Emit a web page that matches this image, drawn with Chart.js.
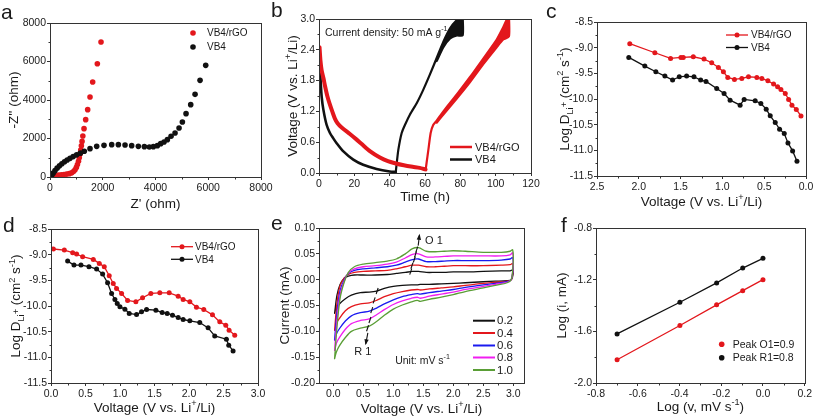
<!DOCTYPE html>
<html><head><meta charset="utf-8">
<script src="https://cdn.jsdelivr.net/npm/chart.js@4.4.1/dist/chart.umd.min.js"></script>
<style>
html,body{margin:0;padding:0;background:#fff;}
#wrap{position:relative;width:814px;height:418px;overflow:hidden;background:#fff;}
canvas{position:absolute;left:0;top:0;}
</style>
</head><body><div id="wrap">
<canvas id="ca" width="814" height="418"></canvas>
<canvas id="cb" width="814" height="418"></canvas>
<canvas id="cc" width="814" height="418"></canvas>
<canvas id="cd" width="814" height="418"></canvas>
<canvas id="ce" width="814" height="418"></canvas>
<canvas id="cf" width="814" height="418"></canvas>
</div>
<script>
// ================= DATA =================
// (a) Nyquist plot
const aRgoX = [230, 330, 430, 530, 630, 730, 820, 890, 950, 1000, 1040, 1080, 1110, 1140, 1165, 1190, 1215, 1245, 1290, 1353, 1429, 1517, 1618, 1795, 1934];
const aRgoY = [60, 95, 115, 130, 150, 175, 215, 280, 380, 500, 650, 820, 1000, 1200, 1400, 1620, 1850, 2130, 2511, 2978, 3498, 4156, 4935, 5887, 7013];
const aVbX = [60, 120, 190, 270, 360, 450, 550, 650, 760, 880, 1010, 1150, 1300, 1517, 1770, 2048, 2339, 2592, 2845, 3097, 3350, 3578, 3767, 3919, 4071, 4197, 4323, 4450, 4589, 4741, 4893, 5019, 5158, 5335, 5500, 5689, 5904];
const aVbY = [60, 200, 330, 460, 580, 690, 790, 880, 970, 1060, 1150, 1240, 1340, 1472, 1593, 1645, 1680, 1680, 1662, 1628, 1593, 1576, 1558, 1576, 1628, 1732, 1818, 1939, 2113, 2286, 2545, 2857, 3290, 3758, 4294, 5022, 5801];
const aXTicks = [0, 2000, 4000, 6000, 8000];
const aYTicks = [0, 2000, 4000, 6000, 8000];

// (b) discharge / charge
const bRgoDisT = [0.3, 0.8, 1.5, 2.5, 3.5, 4.7, 6, 7.5, 9, 10.5, 13, 17.5, 21, 24, 29, 34.5, 39, 43, 48, 53, 57, 60.3];
const bRgoDisV = [2.45, 2.2, 2.0, 1.85, 1.68, 1.5, 1.35, 1.2, 1.06, 0.97, 0.88, 0.76, 0.66, 0.57, 0.42, 0.3, 0.23, 0.19, 0.15, 0.12, 0.1, 0.07];
const bRgoChT = [60.4, 60.9, 61.9, 63.2, 64.7, 66.6, 70.4, 78, 85.5, 93, 100.6, 104, 106.5, 107.6];
const bRgoChV = [0.07, 0.2, 0.45, 0.78, 0.94, 1.02, 1.2, 1.53, 1.87, 2.23, 2.6, 2.82, 3.0, 3.0];
const bRgoCh2T = [66.6, 70.4, 78, 85.5, 93, 100.6, 104.3, 107.5, 107.6];
const bRgoCh2V = [0.98, 1.14, 1.45, 1.77, 2.12, 2.45, 2.6, 2.66, 3.0];
const bVbDisT = [0.3, 0.6, 1, 1.5, 2.5, 4.3, 6.2, 8, 10, 13.8, 19.4, 25, 32.6, 40, 43.5];
const bVbDisV = [2.15, 2.0, 1.75, 1.49, 1.23, 0.94, 0.78, 0.68, 0.58, 0.42, 0.26, 0.16, 0.08, 0.03, 0.02];
const bVbChT = [43.5, 43.8, 44.9, 46.8, 48.7, 51.5, 55.3, 59, 62.8, 66.6, 70.4, 74.2, 77.5, 79.5, 81.4];
const bVbChV = [0.03, 0.13, 0.45, 0.78, 0.94, 1.14, 1.36, 1.62, 1.92, 2.24, 2.56, 2.82, 2.96, 3.0, 3.0];
const bVbCh2T = [66.6, 70.4, 74.2, 78, 81.3, 81.4];
const bVbCh2V = [2.18, 2.45, 2.62, 2.68, 2.68, 3.0];
const bXTicks = [0, 20, 40, 60, 80, 100, 120];
const bYTicks = [0, 0.6, 1.2, 1.8, 2.4, 3.0];

// (c) diffusion coefficient (discharge)
const cRgoV = [2.108, 1.808, 1.62, 1.496, 1.468, 1.348, 1.22, 1.128, 1.048, 0.988, 0.936, 0.856, 0.768, 0.688, 0.588, 0.528, 0.456, 0.388, 0.34, 0.30, 0.248, 0.208, 0.168, 0.116, 0.06];
const cRgoD = [-8.923, -9.099, -9.209, -9.19, -9.19, -9.177, -9.222, -9.294, -9.385, -9.469, -9.58, -9.619, -9.6, -9.567, -9.58, -9.6, -9.645, -9.71, -9.762, -9.814, -9.892, -10.009, -10.12, -10.205, -10.33];
const cVbV = [2.12, 1.928, 1.796, 1.688, 1.596, 1.516, 1.428, 1.34, 1.26, 1.196, 1.068, 0.98, 0.908, 0.788, 0.74, 0.608, 0.54, 0.476, 0.428, 0.368, 0.316, 0.26, 0.216, 0.16, 0.108];
const cVbD = [-9.19, -9.359, -9.469, -9.554, -9.632, -9.567, -9.554, -9.567, -9.632, -9.658, -9.795, -9.892, -10.022, -10.12, -10.009, -10.035, -10.087, -10.198, -10.328, -10.458, -10.588, -10.673, -10.855, -11.011, -11.213];
const cXTicks = [0, 0.5, 1.0, 1.5, 2.0, 2.5];
const cYTicks = [-11.5, -11.0, -10.5, -10.0, -9.5, -9.0, -8.5];

// (d) diffusion coefficient (charge)
const dRgoV = [0.034, 0.193, 0.314, 0.371, 0.458, 0.613, 0.70, 0.772, 0.844, 0.902, 0.95, 1.023, 1.11, 1.23, 1.327, 1.447, 1.577, 1.713, 1.843, 1.915, 2.012, 2.108, 2.214, 2.34, 2.446, 2.533, 2.581, 2.663];
const dRgoD = [-8.89, -8.91, -8.962, -8.988, -9.04, -9.092, -9.17, -9.235, -9.411, -9.561, -9.658, -9.756, -9.892, -9.918, -9.84, -9.756, -9.743, -9.743, -9.808, -9.873, -9.918, -10.022, -10.068, -10.172, -10.309, -10.374, -10.471, -10.569];
const dVbV = [0.241, 0.333, 0.434, 0.55, 0.661, 0.748, 0.82, 0.878, 0.926, 0.96, 0.999, 1.071, 1.134, 1.24, 1.312, 1.385, 1.52, 1.611, 1.684, 1.761, 1.843, 1.915, 2.012, 2.156, 2.277, 2.373, 2.542, 2.576, 2.639];
const dVbD = [-9.125, -9.203, -9.203, -9.235, -9.281, -9.378, -9.548, -9.756, -9.873, -9.951, -10.016, -10.061, -10.146, -10.166, -10.114, -10.068, -10.081, -10.127, -10.146, -10.179, -10.224, -10.263, -10.289, -10.322, -10.426, -10.582, -10.647, -10.764, -10.875];
const dXTicks = [0, 0.5, 1.0, 1.5, 2.0, 2.5, 3.0];
const dYTicks = [-11.5, -11.0, -10.5, -10.0, -9.5, -9.0, -8.5];

// (e) CV curves at different scan rates
const eRates = ['0.2', '0.4', '0.6', '0.8', '1.0'];
const eUpX = [0.02, 0.06, 0.11, 0.18, 0.25, 0.35, 0.5, 0.7, 0.9, 1.05, 1.2, 1.32, 1.42, 1.55, 1.7, 1.85, 2.0, 2.2, 2.5, 2.8, 2.95, 2.99];
const eLoX = [3.0, 2.97, 2.9, 2.7, 2.5, 2.2, 2.0, 1.8, 1.6, 1.45, 1.4, 1.3, 1.15, 1.0, 0.85, 0.72, 0.6, 0.45, 0.3, 0.2, 0.1, 0.05, 0.02];
const eUp02 = [-0.065, -0.03, -0.01, 0.003, 0.007, 0.009, 0.009, 0.009, 0.010, 0.012, 0.014, 0.016, 0.016, 0.014, 0.014, 0.014, 0.015, 0.015, 0.016, 0.017, 0.017, 0.019];
const eLo02 = [0.012, 0.0, -0.002, -0.003, -0.004, -0.006, -0.007, -0.008, -0.009, -0.009, -0.010, -0.010, -0.011, -0.013, -0.017, -0.022, -0.024, -0.025, -0.030, -0.037, -0.047, -0.055, -0.065];
const eUp04 = [-0.098, -0.045, -0.012, 0.003, 0.010, 0.014, 0.016, 0.017, 0.018, 0.021, 0.025, 0.028, 0.028, 0.025, 0.025, 0.026, 0.027, 0.027, 0.027, 0.028, 0.029, 0.031];
const eLo04 = [0.02, 0.0, -0.003, -0.005, -0.007, -0.011, -0.014, -0.016, -0.018, -0.020, -0.019, -0.020, -0.023, -0.027, -0.033, -0.040, -0.045, -0.047, -0.052, -0.060, -0.075, -0.085, -0.098];
const eUp06 = [-0.117, -0.062, -0.022, 0.0, 0.012, 0.018, 0.021, 0.023, 0.025, 0.028, 0.034, 0.039, 0.040, 0.035, 0.035, 0.036, 0.037, 0.037, 0.037, 0.038, 0.040, 0.043];
const eLo06 = [0.025, 0.001, -0.004, -0.007, -0.010, -0.015, -0.019, -0.022, -0.025, -0.028, -0.027, -0.029, -0.033, -0.039, -0.047, -0.055, -0.061, -0.064, -0.070, -0.080, -0.095, -0.105, -0.117];
const eUp08 = [-0.137, -0.078, -0.03, -0.003, 0.013, 0.021, 0.025, 0.027, 0.030, 0.034, 0.042, 0.049, 0.050, 0.044, 0.044, 0.045, 0.046, 0.046, 0.046, 0.046, 0.048, 0.052];
const eLo08 = [0.03, 0.001, -0.005, -0.009, -0.013, -0.019, -0.024, -0.028, -0.032, -0.036, -0.034, -0.036, -0.041, -0.048, -0.058, -0.068, -0.076, -0.079, -0.085, -0.096, -0.112, -0.123, -0.137];
const eUp10 = [-0.153, -0.092, -0.037, -0.005, 0.014, 0.025, 0.030, 0.033, 0.036, 0.040, 0.050, 0.060, 0.062, 0.055, 0.054, 0.055, 0.056, 0.055, 0.053, 0.053, 0.055, 0.058];
const eLo10 = [0.035, 0.001, -0.006, -0.011, -0.016, -0.023, -0.029, -0.034, -0.038, -0.042, -0.040, -0.043, -0.049, -0.057, -0.069, -0.081, -0.090, -0.094, -0.100, -0.112, -0.128, -0.140, -0.153];
const eO1X = [1.29, 1.31, 1.35, 1.37, 1.39];
const eO1Y = [0.0155, 0.027, 0.039, 0.049, 0.058];
const eR1X = [0.73, 0.68, 0.64, 0.61, 0.57];
const eR1Y = [-0.022, -0.040, -0.059, -0.078, -0.094];
const eXTicks = [0, 0.5, 1.0, 1.5, 2.0, 2.5, 3.0];
const eYTicks = [-0.20, -0.15, -0.10, -0.05, 0.00, 0.05, 0.10];

// (f) log(i) vs log(v)
const fLogV = [-0.699, -0.398, -0.222, -0.097, 0.0];
const fO1 = [-1.82, -1.555, -1.395, -1.285, -1.20];
const fR1 = [-1.62, -1.375, -1.225, -1.11, -1.035];
const fXTicks = [-0.8, -0.6, -0.4, -0.2, 0.0, 0.2];
const fYTicks = [-2.0, -1.6, -1.2, -0.8];

// ================= STYLE / LAYOUT =================
const W = 814, H = 418;
const FF = "'Liberation Sans', Arial, Helvetica, sans-serif";
const TXT = '#1a1a1a', AX = '#333';
const RED = '#e3171c', BLK = '#111111', BLUE = '#1a1aef', MAG = '#f01ef0', GRN = '#5a9e36';
const E_COLORS = [BLK, RED, BLUE, MAG, GRN];
Chart.defaults.font.family = FF;
Chart.defaults.color = TXT;

const PANEL = {
  a: {L: 50, T: 23, R: 261, B: 177, yt: 13.5, xt: 203},
  b: {L: 319, T: 19, R: 531, B: 173, yt: 292, xt: 196},
  c: {L: 597, T: 22, R: 806, B: 176, yt: 564, xt: 201},
  d: {L: 51, T: 229, R: 258, B: 383, yt: 15.5, xt: 407},
  e: {L: 319, T: 228, R: 524, B: 383, yt: 284, xt: 408},
  f: {L: 596, T: 228, R: 806, B: 383, yt: 561.5, xt: 406}
};

const zip = (xs, ys) => xs.map((x, i) => ({x: x, y: ys[i]}));

function rich(ctx, segs, x, y, size, opt) {
  opt = opt || {};
  ctx.save();
  ctx.translate(x, y);
  if (opt.rot) ctx.rotate(opt.rot);
  const parts = segs.map(s => {
    const t = Array.isArray(s) ? s[0] : s;
    const m = Array.isArray(s) ? s[1] : '';
    const fs = m ? size * 0.68 : size;
    ctx.font = fs + 'px ' + FF;
    return {t, m, fs, w: ctx.measureText(t).width};
  });
  const tot = parts.reduce((s, p) => s + p.w, 0);
  let cx = opt.align === 'left' ? 0 : -tot / 2;
  ctx.textAlign = 'left';
  ctx.textBaseline = 'alphabetic';
  ctx.fillStyle = opt.color || TXT;
  const base = size * 0.36;
  for (const p of parts) {
    ctx.font = p.fs + 'px ' + FF;
    const dy = p.m === 'sub' ? size * 0.3 : p.m === 'sup' ? -size * 0.42 : p.m === 'subsup' ? -size * 0.12 : 0;
    ctx.fillText(p.t, cx, base + dy);
    cx += p.w;
  }
  ctx.restore();
}

const decoPlugin = {
  id: 'deco',
  afterDraw(chart, args, o) {
    const ctx = chart.ctx, a = chart.chartArea, sx = chart.scales.x, sy = chart.scales.y;
    const px = v => sx.getPixelForValue(v), py = v => sy.getPixelForValue(v);
    ctx.save();
    // frame
    ctx.strokeStyle = AX; ctx.lineWidth = 1;
    const l = Math.round(a.left) + 0.5, r = Math.round(a.right) + 0.5, t = Math.round(a.top) + 0.5, b = Math.round(a.bottom) + 0.5;
    ctx.strokeRect(l, t, r - l, b - t);
    // minor ticks
    ctx.beginPath();
    const xt = sx.ticks.map(k => k.value), yt = sy.ticks.map(k => k.value);
    for (let i = 0; i < xt.length - 1; i++) {
      const p = Math.round(px((xt[i] + xt[i + 1]) / 2)) + 0.5;
      ctx.moveTo(p, b); ctx.lineTo(p, b + 2);
    }
    for (let i = 0; i < yt.length - 1; i++) {
      const p = Math.round(py((yt[i] + yt[i + 1]) / 2)) + 0.5;
      ctx.moveTo(l, p); ctx.lineTo(l - 2, p);
    }
    ctx.stroke();
    // axis titles
    const P = o.p;
    rich(ctx, o.xTitle, (a.left + a.right) / 2, P.xt, 13.5);
    rich(ctx, o.yTitle, P.yt, (a.top + a.bottom) / 2, 13.5, {rot: -Math.PI / 2});
    // panel letter
    ctx.fillStyle = TXT; ctx.font = '21px ' + FF; ctx.textAlign = 'left'; ctx.textBaseline = 'alphabetic';
    ctx.fillText(o.letter[0], o.letter[1], o.letter[2]);
    // legend
    if (o.legend) {
      const g = o.legend;
      g.items.forEach((it, i) => {
        const y = g.ys[i];
        ctx.strokeStyle = it[1]; ctx.fillStyle = it[1];
        if (g.kind === 'dot') {
          ctx.beginPath(); ctx.arc(g.sx, y, g.r || 2.8, 0, Math.PI * 2); ctx.fill();
        } else {
          ctx.lineWidth = g.lw; ctx.beginPath(); ctx.moveTo(g.sx, y); ctx.lineTo(g.sx + g.len, y); ctx.stroke();
          if (g.kind === 'linedot') { ctx.beginPath(); ctx.arc(g.sx + g.len / 2, y, 2.5, 0, Math.PI * 2); ctx.fill(); }
        }
        ctx.fillStyle = TXT; ctx.font = g.size + 'px ' + FF; ctx.textBaseline = 'middle'; ctx.textAlign = 'left';
        ctx.fillText(it[0], g.tx, y + 0.5);
      });
    }
    // dashes marking peaks (data coords)
    if (o.dashes) {
      ctx.strokeStyle = BLK; ctx.lineWidth = 1.1;
      o.dashes.forEach(d => {
        d.x.forEach((xv, i) => {
          const X = px(xv), Y = py(d.y[i]);
          ctx.beginPath(); ctx.moveTo(X - 1, Y + 3); ctx.lineTo(X + 1, Y - 3); ctx.stroke();
        });
      });
    }
    // arrows (data coords)
    if (o.arrows) {
      ctx.strokeStyle = BLK; ctx.fillStyle = BLK; ctx.lineWidth = 1.1;
      o.arrows.forEach(ar => {
        const x1 = px(ar[0]), y1 = py(ar[1]), x2 = px(ar[2]), y2 = py(ar[3]);
        const ang = Math.atan2(y2 - y1, x2 - x1);
        ctx.beginPath(); ctx.moveTo(x1, y1); ctx.lineTo(x2, y2); ctx.stroke();
        ctx.beginPath();
        ctx.moveTo(x2 + Math.cos(ang) * 1.5, y2 + Math.sin(ang) * 1.5);
        ctx.lineTo(x2 - Math.cos(ang - 0.45) * 5, y2 - Math.sin(ang - 0.45) * 5);
        ctx.lineTo(x2 - Math.cos(ang + 0.45) * 5, y2 - Math.sin(ang + 0.45) * 5);
        ctx.closePath(); ctx.fill();
      });
    }
    // texts (data coords)
    if (o.texts) {
      o.texts.forEach(tx => rich(ctx, tx.segs, px(tx.x), py(tx.y), tx.size, {align: tx.align}));
    }
    ctx.restore();
  }
};

function axis(ticks, dec, min, max, size, isX, reverse) {
  return {
    type: 'linear', min: min, max: max, reverse: !!reverse,
    afterBuildTicks: s => { s.ticks = ticks.map(v => ({value: v})); },
    afterFit: s => { if (isX) s.height = size; else s.width = size; },
    ticks: {autoSkip: false, maxRotation: 0, minRotation: 0, padding: isX ? 2 : 1,
      font: {size: 10.5, family: FF}, color: TXT,
      callback: v => Number(v).toFixed(dec)},
    grid: {drawOnChartArea: false, drawTicks: true, tickLength: 3, color: AX, lineWidth: 1},
    border: {display: false},
    title: {display: false}
  };
}

function build(key, datasets, xa, ya, deco) {
  const p = PANEL[key];
  const sl = p.yt - 9, sb = p.xt + 9;
  deco.p = p;
  return {
    type: 'scatter',
    data: {datasets: datasets},
    options: {
      responsive: false, animation: false, devicePixelRatio: 1, events: [],
      layout: {autoPadding: false, padding: {left: sl, top: p.T, right: W - p.R, bottom: H - sb}},
      plugins: {legend: {display: false}, tooltip: {enabled: false}, deco: deco},
      scales: {
        x: axis(xa.ticks, xa.dec, xa.min, xa.max, sb - p.B, true, xa.reverse),
        y: axis(ya.ticks, ya.dec, ya.min, ya.max, p.L - sl, false, ya.reverse)
      }
    },
    plugins: [decoPlugin]
  };
}

const pts = (data, color, r) => ({data, showLine: false, pointRadius: r, pointBackgroundColor: color, pointBorderWidth: 0, borderWidth: 0});
const line = (data, color, w, tension, fill) => ({data, showLine: true, pointRadius: 0, borderColor: color, backgroundColor: color, borderWidth: w, tension: tension || 0, fill: fill || false, borderJoinStyle: 'round', borderCapStyle: 'round'});
const lp = (data, color) => ({data, showLine: true, pointRadius: 2.5, pointBackgroundColor: color, pointBorderWidth: 0, borderColor: color, borderWidth: 1.3});

// (a)
new Chart(document.getElementById('ca'), build('a',
  [pts(zip(aVbX, aVbY), BLK, 2.8), pts(zip(aRgoX, aRgoY), RED, 2.8)],
  {ticks: aXTicks, dec: 0, min: 0, max: 8000}, {ticks: aYTicks, dec: 0, min: 0, max: 8000},
  {letter: ['a', 1, 19], xTitle: ["Z' (ohm)"], yTitle: ["-Z'' (ohm)"],
   legend: {kind: 'dot', sx: 193, tx: 207, ys: [33, 47], size: 10, items: [['VB4/rGO', RED], ['VB4', BLK]]}}));

// (b)
new Chart(document.getElementById('cb'), build('b',
  [line(zip(bRgoDisT, bRgoDisV), RED, 4, 0.25),
   line(zip(bRgoChT, bRgoChV), RED, 2.2, 0.2), line(zip(bRgoCh2T, bRgoCh2V), RED, 2.2, 0.2, '-1'),
   line(zip(bVbDisT, bVbDisV), BLK, 2.6, 0.25),
   line(zip(bVbChT, bVbChV), BLK, 2.2, 0.2), line(zip(bVbCh2T, bVbCh2V), BLK, 2.2, 0.2, '-1')],
  {ticks: bXTicks, dec: 0, min: 0, max: 120}, {ticks: bYTicks, dec: 1, min: 0, max: 3.0},
  {letter: ['b', 271, 17], xTitle: ['Time (h)'], yTitle: ['Voltage (V vs. Li', ['+', 'sup'], '/Li)'],
   legend: {kind: 'line', sx: 450, len: 22, lw: 2.5, tx: 475, ys: [147, 159.5], size: 11, items: [['VB4/rGO', RED], ['VB4', BLK]]},
   texts: [{segs: ['Current density: 50 mA g', ['-1', 'sup']], x: 3.4, y: 2.75, size: 10.5, align: 'left'}]}));

// (c)
const logDTitle = ['Log D', ['Li', 'sub'], ['+', 'subsup'], ' (cm', ['2', 'sup'], ' s', ['-1', 'sup'], ')'];
new Chart(document.getElementById('cc'), build('c',
  [lp(zip(cVbV, cVbD), BLK), lp(zip(cRgoV, cRgoD), RED)],
  {ticks: cXTicks, dec: 1, min: 0, max: 2.5, reverse: true}, {ticks: cYTicks, dec: 1, min: -11.5, max: -8.5},
  {letter: ['c', 546, 18], xTitle: ['Voltage (V vs. Li', ['+', 'sup'], '/Li)'], yTitle: logDTitle,
   legend: {kind: 'linedot', sx: 726, len: 22, lw: 1.3, tx: 751, ys: [35, 47.5], size: 10, items: [['VB4/rGO', RED], ['VB4', BLK]]}}));

// (d)
new Chart(document.getElementById('cd'), build('d',
  [lp(zip(dVbV, dVbD), BLK), lp(zip(dRgoV, dRgoD), RED)],
  {ticks: dXTicks, dec: 1, min: 0, max: 3.0}, {ticks: dYTicks, dec: 1, min: -11.5, max: -8.5},
  {letter: ['d', 3, 232], xTitle: ['Voltage (V vs. Li', ['+', 'sup'], '/Li)'], yTitle: logDTitle,
   legend: {kind: 'linedot', sx: 171, len: 22, lw: 1.3, tx: 195, ys: [246.7, 259.3], size: 10, items: [['VB4/rGO', RED], ['VB4', BLK]]}}));

// (e)
const eUps = [eUp02, eUp04, eUp06, eUp08, eUp10], eLos = [eLo02, eLo04, eLo06, eLo08, eLo10];
const eSets = eUps.map((u, i) => line(zip(eUpX.concat(eLoX), u.concat(eLos[i])), E_COLORS[i], 1.3, 0.3)).reverse();
new Chart(document.getElementById('ce'), build('e',
  eSets,
  {ticks: eXTicks, dec: 1, min: -0.24, max: 3.18}, {ticks: eYTicks, dec: 2, min: -0.20, max: 0.10},
  {letter: ['e', 271, 230], xTitle: ['Voltage (V vs. Li', ['+', 'sup'], '/Li)'], yTitle: ['Current (mA)'],
   legend: {kind: 'line', sx: 473, len: 22, lw: 2, tx: 497, ys: [320.7, 333, 345.5, 357.5, 370], size: 11.5,
     items: eRates.map((r, i) => [r, E_COLORS[i]])},
   dashes: [{x: eO1X, y: eO1Y}, {x: eR1X, y: eR1Y}],
   arrows: [[1.415, 0.066, 1.435, 0.086], [0.575, -0.103, 0.54, -0.124]],
   texts: [{segs: ['O 1'], x: 1.53, y: 0.077, size: 11, align: 'left'},
           {segs: ['R 1'], x: 0.49, y: -0.139, size: 11},
           {segs: ['Unit: mV s', ['-1', 'sup']], x: 1.03, y: -0.155, size: 10.5, align: 'left'}]}));

// (f)
new Chart(document.getElementById('cf'), build('f',
  [lp(zip(fLogV, fR1), BLK), lp(zip(fLogV, fO1), RED)],
  {ticks: fXTicks, dec: 1, min: -0.8, max: 0.2}, {ticks: fYTicks, dec: 1, min: -2.0, max: -0.8},
  {letter: ['f', 561, 232], xTitle: ['Log (v, mV s', ['-1', 'sup'], ')'], yTitle: ['Log (i, mA)'],
   legend: {kind: 'dot', sx: 721.7, tx: 732.7, ys: [344.3, 357.7], size: 10.5, r: 2.8, items: [['Peak O1=0.9', RED], ['Peak R1=0.8', BLK]]}}));
</script>
</body></html>
